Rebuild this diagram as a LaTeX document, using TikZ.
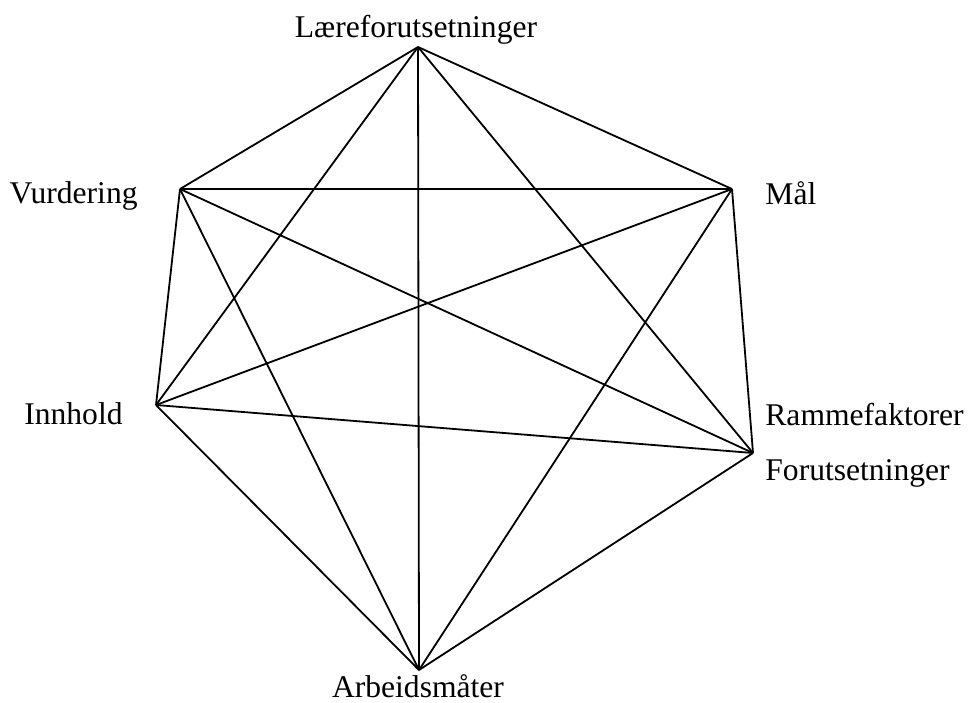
\documentclass[tikz,border=0pt]{standalone}
\usepackage{fontspec}
\setmainfont{Liberation Serif}
\begin{document}
\begin{tikzpicture}[x=0.5pt,y=-0.5pt,
  lbl/.style={inner sep=0pt,font=\fontsize{15.8pt}{18pt}\selectfont},
  edge/.style={line width=0.9pt,line join=round}]
\useasboundingbox (0,0) rectangle (968,702);
\coordinate (L) at (418,47);
\coordinate (V) at (180,189);
\coordinate (M) at (732,189);
\coordinate (I) at (156,405);
\coordinate (R) at (753,453);
\coordinate (A) at (419,670);
\foreach \a/\b in {L/V,L/M,L/I,L/R,L/A,V/M,V/I,V/R,V/A,M/I,M/R,M/A,I/R,I/A,R/A}
  \draw[edge] (\a) -- (\b);
\node[lbl,anchor=base] (tL) at (416,37) {Læreforutsetninger};
\node[lbl,anchor=base east] (tV) at (138,203) {Vurdering};
\node[lbl,anchor=base west] (tM) at (765,204) {Mål};
\node[lbl,anchor=base east] (tI) at (123,424) {Innhold};
\node[lbl,anchor=base west] (tR) at (765,425) {Rammefaktorer};
\node[lbl,anchor=base west] (tF) at (765,480) {Forutsetninger};
\node[lbl,anchor=base] (tA) at (418,697) {Arbeidsmåter};
\end{tikzpicture}
\end{document}
